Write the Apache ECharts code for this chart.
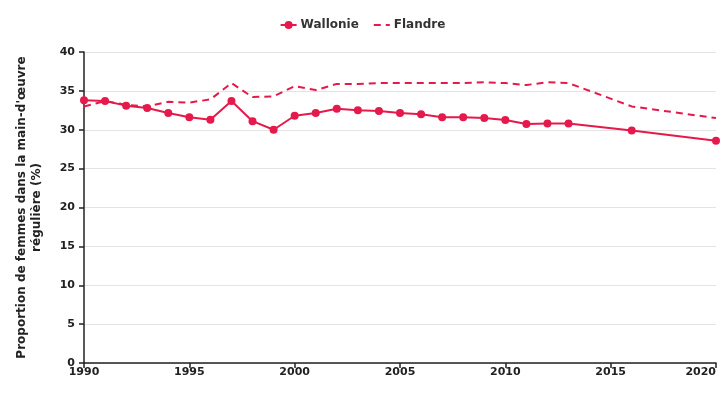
<!DOCTYPE html>
<html><head><meta charset="utf-8">
<script src="https://cdn.jsdelivr.net/npm/echarts@6/dist/echarts.min.js"></script>
<style>html,body{margin:0;padding:0;background:#fff}#c{width:725px;height:400px}</style>
</head><body><div id="c"></div>
<script>
const walYears = [1990,1991,1992,1993,1994,1995,1996,1997,1998,1999,2000,2001,2002,2003,2004,2005,2006,2007,2008,2009,2010,2011,2012,2013,2016,2020];
const walValues = [33.8,33.7,33.1,32.8,32.15,31.6,31.3,33.7,31.1,30.0,31.8,32.15,32.7,32.5,32.4,32.15,32.0,31.6,31.6,31.5,31.25,30.75,30.8,30.8,29.9,28.6];
const flaYears = walYears;
const flaValues = [33.0,33.7,33.2,33.0,33.6,33.5,33.9,36.0,34.2,34.3,35.6,35.1,35.9,35.9,36.0,36.0,36.0,36.0,36.0,36.1,36.0,35.75,36.1,36.0,33.0,31.5];
const color = '#e5194b';
const chart = echarts.init(document.getElementById('c'));
const font = 'DejaVu Sans';
chart.setOption({
  animation:false,
  textStyle:{fontFamily:font},
  legend:{top:14,left:'center',itemGap:14,itemWidth:16,itemHeight:10,
    textStyle:{fontFamily:font,fontWeight:'bold',fontSize:12,color:'#333',padding:[0,0,0,-1]},
    data:[{name:'Wallonie'},{name:'Flandre',itemStyle:{color:'transparent',borderWidth:0}}]},
  grid:{left:84,right:9,top:52,bottom:37,containLabel:false,outerBoundsMode:'none'},
  xAxis:{type:'value',min:1990,max:2020,interval:5,
    axisLine:{show:true,lineStyle:{color:'#222',width:1.5}},
    axisTick:{show:true,length:5,lineStyle:{color:'#222',width:1.5}},
    splitLine:{show:false},
    axisLabel:{fontFamily:font,fontWeight:'bold',fontSize:11,color:'#222',margin:4,alignMaxLabel:'right',formatter:v=>String(v)}},
  yAxis:{type:'value',min:0,max:40,interval:5,
    name:"Proportion de femmes dans la main-d'œuvre\nrégulière (%)",
    nameLocation:'middle',nameGap:40,nameRotate:90,
    nameTextStyle:{fontFamily:font,fontWeight:'bold',fontSize:12,color:'#222',lineHeight:15},
    axisLine:{show:true,lineStyle:{color:'#222',width:1.5}},
    axisTick:{show:true,length:5,lineStyle:{color:'#222',width:1.5}},
    splitLine:{show:true,lineStyle:{color:'#e3e3e3',width:1}},
    axisLabel:{fontFamily:font,fontWeight:'bold',fontSize:11,color:'#222',margin:9}},
  series:[
    {name:'Wallonie',type:'line',data:walYears.map((y,i)=>[y,walValues[i]]),
      symbol:'circle',symbolSize:8,showSymbol:true,
      lineStyle:{color:color,width:2},itemStyle:{color:color}},
    {name:'Flandre',type:'line',data:flaYears.map((y,i)=>[y,flaValues[i]]),
      symbol:'none',showSymbol:false,
      lineStyle:{color:color,width:2,type:[7,5]},itemStyle:{color:color}}
  ]
});
</script></body></html>
